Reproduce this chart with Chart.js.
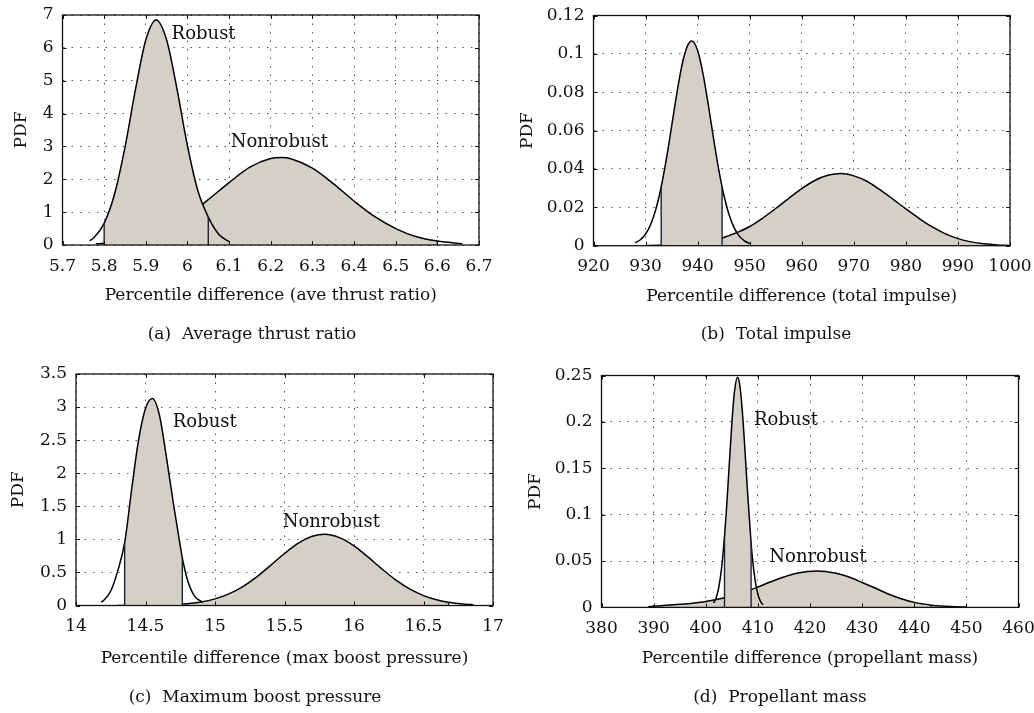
<!DOCTYPE html>
<html>
<head>
<meta charset="utf-8">
<script src="https://cdn.jsdelivr.net/npm/chart.js@4.4.0/dist/chart.umd.min.js"></script>
<style>
  body { margin: 0; background: #fff; width: 1034px; height: 713px; position: relative; overflow: hidden; font-family: 'DejaVu Serif', serif; }
  canvas { position: absolute; }
  .cap { position: absolute; font-size: 17px; color: #111; white-space: pre; transform: translate(-50%, -50%); }
</style>
</head>
<body>
<canvas id="pa" width="517" height="315" style="left:0;top:0"></canvas>
<canvas id="pb" width="517" height="315" style="left:517px;top:0"></canvas>
<canvas id="pc" width="517" height="398" style="left:0;top:315px"></canvas>
<canvas id="pd" width="517" height="398" style="left:517px;top:315px"></canvas>
<div class="cap" style="left:252px;top:333px">(a)  Average thrust ratio</div>
<div class="cap" style="left:776px;top:333px">(b)  Total impulse</div>
<div class="cap" style="left:255px;top:696px">(c)  Maximum boost pressure</div>
<div class="cap" style="left:780px;top:696px">(d)  Propellant mass</div>
<script>
// (a) average thrust ratio
const thrustRobustX = [5.765, 5.775, 5.80, 5.825, 5.85, 5.875, 5.90, 5.925, 5.95, 5.975, 6.00, 6.025, 6.05, 6.075, 6.10];
const thrustRobustPdf = [0.13, 0.22, 0.66, 1.55, 2.97, 4.72, 6.24, 6.85, 6.24, 4.74, 3.02, 1.65, 0.85, 0.33, 0.10];
const thrustNonrobustX = [5.78, 5.80, 5.85, 5.90, 5.95, 6.00, 6.05, 6.10, 6.15, 6.20, 6.225, 6.25, 6.30, 6.35, 6.40, 6.45, 6.50, 6.55, 6.60, 6.66];
const thrustNonrobustPdf = [0.036, 0.053, 0.126, 0.27, 0.52, 0.89, 1.38, 1.90, 2.37, 2.63, 2.66, 2.62, 2.34, 1.87, 1.34, 0.86, 0.50, 0.25, 0.12, 0.04];
const thrustRobustBounds = [5.80, 6.05];
const thrustNonrobustBounds = [5.80, 6.60];
const thrustXTicks = [5.7, 5.8, 5.9, 6, 6.1, 6.2, 6.3, 6.4, 6.5, 6.6, 6.7];
const thrustYTicks = [0, 1, 2, 3, 4, 5, 6, 7];

// (b) total impulse
const impulseRobustX = [928, 929, 930, 931, 932, 933, 934, 935, 936, 937, 938, 938.9, 940, 941, 942, 943, 944, 944.7, 945, 946, 947, 948, 949, 950];
const impulseRobustPdf = [0.0015, 0.0031, 0.0061, 0.0112, 0.0192, 0.0306, 0.0452, 0.0621, 0.0793, 0.0942, 0.1039, 0.1067, 0.1017, 0.0901, 0.0743, 0.0569, 0.0405, 0.0306, 0.0268, 0.0165, 0.0094, 0.0050, 0.0025, 0.0011];
const impulseNonrobustX = [930, 932.5, 935, 937.5, 940, 942.5, 945, 947.5, 950, 952.5, 955, 957.5, 960, 962.5, 965, 967.5, 970, 972.5, 975, 977.5, 980, 982.5, 985, 987.5, 990, 992.5, 995, 997.5, 1000];
const impulseNonrobustPdf = [0.0001, 0.0002, 0.0004, 0.0008, 0.0015, 0.0026, 0.0043, 0.0068, 0.0100, 0.0144, 0.0194, 0.0247, 0.0298, 0.0340, 0.0367, 0.0376, 0.0364, 0.0336, 0.0292, 0.0243, 0.0192, 0.0143, 0.0099, 0.0063, 0.0037, 0.0020, 0.0010, 0.0004, 0.0001];
const impulseRobustBounds = [933, 944.7];
const impulseNonrobustBounds = [930, 1000];
const impulseXTicks = [920, 930, 940, 950, 960, 970, 980, 990, 1000];
const impulseYTicks = [0, 0.02, 0.04, 0.06, 0.08, 0.1, 0.12];

// (c) maximum boost pressure
const pressureRobustX = [14.18, 14.20, 14.25, 14.30, 14.35, 14.40, 14.45, 14.50, 14.55, 14.60, 14.65, 14.70, 14.75, 14.765, 14.80, 14.85, 14.91];
const pressureRobustPdf = [0.05, 0.08, 0.22, 0.52, 0.95, 1.75, 2.50, 2.98, 3.13, 2.88, 2.25, 1.55, 0.90, 0.72, 0.40, 0.15, 0.05];
const pressureNonrobustX = [14.30, 14.40, 14.50, 14.60, 14.70, 14.80, 14.90, 15.00, 15.10, 15.20, 15.30, 15.40, 15.50, 15.60, 15.70, 15.79, 15.90, 16.00, 16.10, 16.20, 16.30, 16.40, 16.50, 16.60, 16.68, 16.80, 16.86];
const pressureNonrobustPdf = [0.0002, 0.0007, 0.0018, 0.0048, 0.0115, 0.026, 0.052, 0.100, 0.176, 0.287, 0.434, 0.607, 0.786, 0.943, 1.046, 1.076, 1.022, 0.900, 0.734, 0.554, 0.387, 0.250, 0.150, 0.083, 0.049, 0.020, 0.012];
const pressureRobustBounds = [14.35, 14.765];
const pressureNonrobustBounds = [14.40, 16.68];
const pressureXTicks = [14, 14.5, 15, 15.5, 16, 16.5, 17];
const pressureYTicks = [0, 0.5, 1, 1.5, 2, 2.5, 3, 3.5];

// (d) propellant mass
const massRobustX = [401.5, 402, 402.5, 403, 403.6, 404, 404.5, 405, 405.5, 406.1, 406.5, 407, 407.5, 408, 408.7, 409, 409.5, 410, 410.5, 411];
const massRobustPdf = [0.0047, 0.0105, 0.0216, 0.0407, 0.0765, 0.108, 0.153, 0.1975, 0.232, 0.248, 0.2406, 0.213, 0.1715, 0.1257, 0.0695, 0.0509, 0.0282, 0.0142, 0.0065, 0.0027];
const massNonrobustX = [389, 390, 392.5, 395, 397.5, 400, 402.5, 403.6, 405, 407.5, 410, 412.5, 415, 417.5, 421.3, 425, 427.5, 430, 432.5, 435, 437.5, 440, 443.3, 445, 447.5, 450];
const massNonrobustPdf = [0.0008, 0.0012, 0.0022, 0.0033, 0.0046, 0.0064, 0.0091, 0.0105, 0.0125, 0.0168, 0.0220, 0.0276, 0.0327, 0.0367, 0.0392, 0.0368, 0.0327, 0.0269, 0.0209, 0.0145, 0.0094, 0.0054, 0.0024, 0.0015, 0.0008, 0.0003];
const massRobustBounds = [403.6, 408.7];
const massNonrobustBounds = [390, 443.3];
const massXTicks = [380, 390, 400, 410, 420, 430, 440, 450, 460];
const massYTicks = [0, 0.05, 0.1, 0.15, 0.2, 0.25];

Chart.defaults.font.family = "'DejaVu Serif', serif";
Chart.defaults.color = '#111';

const SHADE = '#d4d0c8';

// turn x/y arrays into points, optionally only between two bounds
function points(xs, ys, bounds) {
  const out = [];
  xs.forEach((x, i) => {
    if (!bounds || (x >= bounds[0] && x <= bounds[1])) out.push({ x: x, y: ys[i] });
  });
  return out;
}

// vertical line from the axis up to the curve at one bound
function edge(xs, ys, x, order) {
  return {
    data: [{ x: x, y: 0 }, { x: x, y: ys[xs.indexOf(x)] }],
    borderColor: '#1c2233', borderWidth: 1.4, tension: 0, fill: false, order: order
  };
}

// one group of datasets (curve, shaded part, bound lines) for a distribution
function curveSets(xs, ys, bounds, base) {
  return [
    { data: points(xs, ys), borderColor: '#000', borderWidth: 1.5, fill: false, cubicInterpolationMode: 'monotone', order: base + 1 },
    { data: points(xs, ys, bounds), borderColor: 'rgba(0,0,0,0)', borderWidth: 0, backgroundColor: SHADE, fill: 'origin', cubicInterpolationMode: 'monotone', order: base + 2 },
    edge(xs, ys, bounds[0], base),
    edge(xs, ys, bounds[1], base)
  ];
}

// box, inward ticks and the Robust / Nonrobust texts
function framePlugin(labels) {
  return {
    id: 'frame',
    afterDatasetsDraw(chart) {
      const { ctx, chartArea: a, scales } = chart;
      const x = scales.x, y = scales.y;
      ctx.save();
      ctx.strokeStyle = '#111';
      ctx.lineWidth = 1;
      ctx.beginPath();
      x.ticks.forEach(t => {
        const px = Math.round(x.getPixelForValue(t.value)) + 0.5;
        ctx.moveTo(px, a.bottom); ctx.lineTo(px, a.bottom - 4);
        ctx.moveTo(px, a.top); ctx.lineTo(px, a.top + 4);
      });
      y.ticks.forEach(t => {
        const py = Math.round(y.getPixelForValue(t.value)) + 0.5;
        ctx.moveTo(a.left, py); ctx.lineTo(a.left + 4, py);
        ctx.moveTo(a.right, py); ctx.lineTo(a.right - 4, py);
      });
      ctx.stroke();
      ctx.lineWidth = 1.3;
      ctx.strokeRect(a.left, a.top, a.right - a.left, a.bottom - a.top);
      ctx.fillStyle = '#111';
      ctx.font = "18px 'DejaVu Serif'";
      ctx.textAlign = 'left';
      ctx.textBaseline = 'middle';
      labels.forEach(l => ctx.fillText(l.text, x.getPixelForValue(l.x), y.getPixelForValue(l.y)));
      ctx.restore();
    }
  };
}

function makePanel(p) {
  const datasets = curveSets(p.rx, p.ry, p.rb, 0).concat(curveSets(p.nx, p.ny, p.nb, 3));
  new Chart(document.getElementById(p.id), {
    type: 'line',
    data: { datasets: datasets },
    options: {
      responsive: false,
      animation: false,
      devicePixelRatio: 1,
      layout: { padding: { top: p.padTop, right: p.padRight, left: 0, bottom: 0 } },
      elements: { point: { radius: 0 } },
      plugins: { legend: { display: false }, tooltip: { enabled: false } },
      scales: {
        x: {
          type: 'linear', min: p.xTicks[0], max: p.xTicks[p.xTicks.length - 1],
          afterBuildTicks: s => { s.ticks = p.xTicks.map(v => ({ value: v })); },
          // fixed box so the plot area lands where the reference has it
          afterFit: s => { s.height = p.xHeight; s.paddingLeft = 0; s.paddingRight = 0; },
          ticks: { autoSkip: false, maxRotation: 0, padding: 11, font: { size: 17 }, callback: v => String(v) },
          grid: { color: '#555', lineWidth: 1, drawTicks: false },
          border: { display: false, dash: [1.5, 7] },
          title: { display: true, text: p.xTitle, font: { size: 17 }, padding: { top: 0, bottom: p.xTitlePad } }
        },
        y: {
          type: 'linear', min: p.yTicks[0], max: p.yTicks[p.yTicks.length - 1],
          afterBuildTicks: s => { s.ticks = p.yTicks.map(v => ({ value: v })); },
          afterFit: s => { s.width = p.yWidth; s.paddingTop = 0; s.paddingBottom = 0; },
          ticks: { autoSkip: false, padding: 9, font: { size: 17 }, callback: v => String(v) },
          grid: { color: '#555', lineWidth: 1, drawTicks: false },
          border: { display: false, dash: [1.5, 7] },
          title: { display: true, text: 'PDF', font: { size: 17 }, padding: { top: p.yTitlePad, bottom: 0 } }
        }
      }
    },
    plugins: [framePlugin(p.labels)]
  });
}

makePanel({
  id: 'pa', rx: thrustRobustX, ry: thrustRobustPdf, rb: thrustRobustBounds,
  nx: thrustNonrobustX, ny: thrustNonrobustPdf, nb: thrustNonrobustBounds,
  xTicks: thrustXTicks, yTicks: thrustYTicks, xTitle: 'Percentile difference (ave thrust ratio)',
  labels: [{ text: 'Robust', x: 5.962, y: 6.42 }, { text: 'Nonrobust', x: 6.104, y: 3.13 }],
  padTop: 15, padRight: 38, yWidth: 62.5, xHeight: 70, xTitlePad: 8.8, yTitlePad: 11.5
});

makePanel({
  id: 'pb', rx: impulseRobustX, ry: impulseRobustPdf, rb: impulseRobustBounds,
  nx: impulseNonrobustX, ny: impulseNonrobustPdf, nb: impulseNonrobustBounds,
  xTicks: impulseXTicks, yTicks: impulseYTicks, xTitle: 'Percentile difference (total impulse)',
  labels: [],
  padTop: 15.5, padRight: 24, yWidth: 76.5, xHeight: 69.3, xTitlePad: 8.1, yTitlePad: 0
});

makePanel({
  id: 'pc', rx: pressureRobustX, ry: pressureRobustPdf, rb: pressureRobustBounds,
  nx: pressureNonrobustX, ny: pressureNonrobustPdf, nb: pressureNonrobustBounds,
  xTicks: pressureXTicks, yTicks: pressureYTicks, xTitle: 'Percentile difference (max boost pressure)',
  labels: [{ text: 'Robust', x: 14.696, y: 2.77 }, { text: 'Nonrobust', x: 15.487, y: 1.25 }],
  padTop: 59, padRight: 24, yWidth: 76, xHeight: 107.5, xTitlePad: 44.5, yTitlePad: 8.1
});

makePanel({
  id: 'pd', rx: massRobustX, ry: massRobustPdf, rb: massRobustBounds,
  nx: massNonrobustX, ny: massNonrobustPdf, nb: massNonrobustBounds,
  xTicks: massXTicks, yTicks: massYTicks, xTitle: 'Percentile difference (propellant mass)',
  labels: [{ text: 'Robust', x: 409.25, y: 0.202 }, { text: 'Nonrobust', x: 412.19, y: 0.054 }],
  padTop: 60.5, padRight: 15.5, yWidth: 84.5, xHeight: 105.6, xTitlePad: 44.5, yTitlePad: 8.6
});
</script>
</body>
</html>
